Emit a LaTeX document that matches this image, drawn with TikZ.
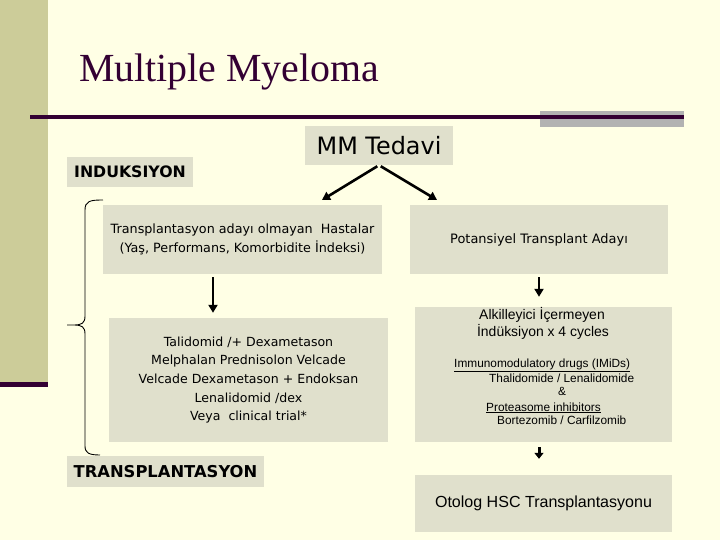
\documentclass[tikz,border=0pt]{standalone}
\usepackage{fontspec}
\setmainfont{DejaVu Sans}
\newfontfamily\titlefont{Liberation Serif}
\newfontfamily\arialfont{Liberation Sans}
\usetikzlibrary{arrows.meta}
\definecolor{bgyellow}{RGB}{255,255,229}
\definecolor{stripe}{RGB}{204,204,153}
\definecolor{darkpurple}{RGB}{51,0,51}
\definecolor{graybar}{RGB}{178,178,178}
\definecolor{boxfill}{RGB}{224,224,204}
\begin{document}
\begin{tikzpicture}[x=1bp, y=-1bp,
    box/.style={fill=boxfill, inner sep=0pt, align=center},
    arr/.style={line width=2.6bp, -{Triangle[length=8bp,width=9bp]}}]
        \fill[bgyellow] (0,0) rectangle (720,540);
        \useasboundingbox (0,0) rectangle (720,540);
        \fill[stripe] (0,0) rectangle (48,382);
        \fill[darkpurple] (0,382) rectangle (48,387);
        \fill[graybar] (540,111) rectangle (684,127);
        \draw[darkpurple, line width=4bp] (30,117) -- (684,117);

        \node[anchor=base west, inner sep=0pt, text=darkpurple, font=\titlefont\fontsize{40}{44}\selectfont] (title) at (79,82) {Multiple Myeloma};

        \node[box, minimum width=148bp, minimum height=39bp, font=\fontsize{24}{28}\selectfont] (mm) at (379,145.5) {MM Tedavi};
        \node[box, minimum width=126bp, minimum height=30bp, font=\bfseries\fontsize{15.8}{18}\selectfont] (ind) at (130,172) {INDUKSIYON};
        \node[box, minimum width=197bp, minimum height=31bp, font=\bfseries\fontsize{16.4}{19}\selectfont] (trans) at (165.5,471.5) {TRANSPLANTASYON};

        \node[box, minimum width=279bp, minimum height=69bp, font=\fontsize{12.8}{19}\selectfont] (nontx) at (242.5,239.5) {Transplantasyon adayı olmayan\ \ Hastalar\\(Yaş, Performans, Komorbidite İndeksi)};
        \node[box, minimum width=279bp, minimum height=124bp, font=\fontsize{12.6}{18.8}\selectfont] (regimen) at (248.5,380) {Talidomid /+ Dexametason\\Melphalan Prednisolon Velcade\\Velcade Dexametason + Endoksan\\Lenalidomid /dex\\Veya\ \ clinical trial*};

        \node[box, minimum width=258bp, minimum height=69bp, font=\fontsize{13}{15}\selectfont] (cand) at (539,239.5) {Potansiyel Transplant Adayı};
        \node[box, minimum width=257bp, minimum height=135bp] (induc) at (543.5,374.5) {};
        \node[box, minimum width=257bp, minimum height=57bp, font=\arialfont\fontsize{16.1}{19}\selectfont] (auto) at (543.5,503.5) {Otolog HSC Transplantasyonu};

        % texts of the induction box
        \node[anchor=base, inner sep=0pt, font=\arialfont\fontsize{14}{17}\selectfont] (alk) at (542,319) {Alkilleyici İçermeyen};
        \node[anchor=base, inner sep=0pt, font=\arialfont\fontsize{14}{17}\selectfont] (cyc) at (543,336) {İndüksiyon x 4 cycles};
        \node[anchor=base west, inner sep=0pt, font=\arialfont\fontsize{11.9}{14}\selectfont] (imid) at (454,367) {\underline{Immunomodulatory drugs (IMiDs)}};
        \node[anchor=base west, inner sep=0pt, font=\arialfont\fontsize{11.9}{14}\selectfont] (thal) at (489,382) {Thalidomide / Lenalidomide};
        \node[anchor=base west, inner sep=0pt, font=\arialfont\fontsize{11.9}{14}\selectfont] (amp) at (558,395) {\&};
        \node[anchor=base west, inner sep=0pt, font=\arialfont\fontsize{11.9}{14}\selectfont] (prot) at (486,411) {\underline{Proteasome inhibitors}};
        \node[anchor=base west, inner sep=0pt, font=\arialfont\fontsize{11.9}{14}\selectfont] (bort) at (497,424) {Bortezomib / Carfilzomib};

        \coordinate (endl) at (322,200);
        \coordinate (endr) at (437,200);

        \draw[arr, shorten <=2bp] (mm.south) -- (endl);
        \draw[arr, shorten <=2bp] (mm.south) -- (endr);

        \draw[arr, shorten <=3bp, shorten >=5bp] ([xshift=-29.5bp]nontx.south) -- ([xshift=-29.5bp]nontx.south |- regimen.north);
        \draw[arr, shorten <=3bp, shorten >=10bp] (cand.south) -- (cand.south |- induc.north);
        \draw[arr, line width=3bp, -{Triangle[length=6bp,width=9bp]}, shorten <=5bp, shorten >=16bp] (cand.south |- induc.south) -- (cand.south |- auto.north);

        % brace
        \draw[line width=0.9bp] (103,200) .. controls (90,200) and (85,201) .. (85,210) -- (85,316)
            .. controls (85,323) and (82,325) .. (74,325) -- (67,325)
            (74,325) .. controls (82,325) and (85,327) .. (85,334) -- (85,446)
            .. controls (85,453) and (89,455) .. (100,455);
\end{tikzpicture}
\end{document}
